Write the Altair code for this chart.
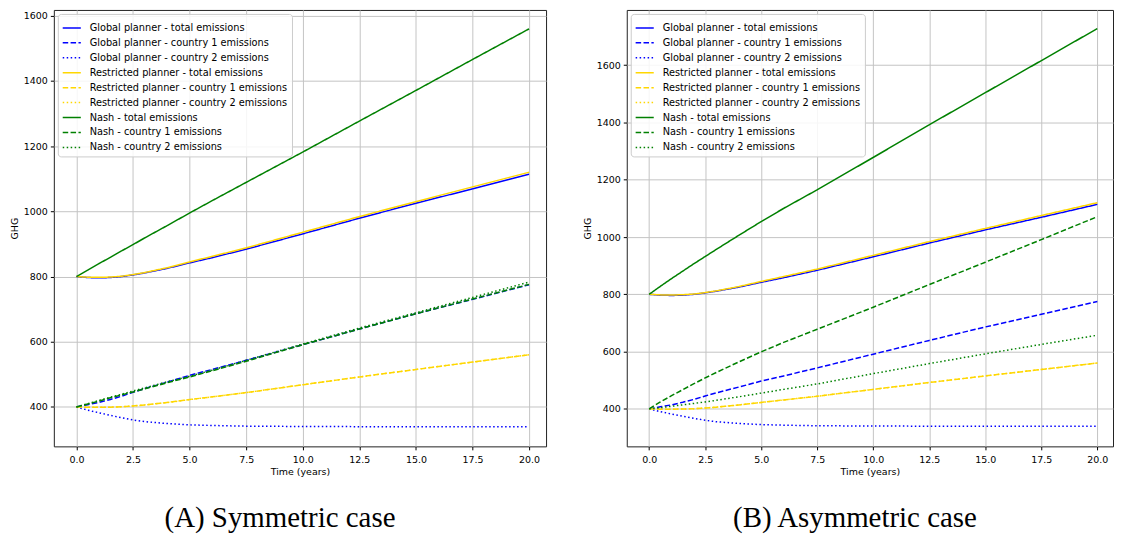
import altair as alt
import pandas as pd

# ---------------- data ----------------
t = [0, 0.5, 1, 1.5, 2, 2.5, 3, 4, 5, 6, 7.5, 10, 12.5, 15, 17.5, 20]

series_names = [
    "Global planner - total emissions",
    "Global planner - country 1 emissions",
    "Global planner - country 2 emissions",
    "Restricted planner - total emissions",
    "Restricted planner - country 1 emissions",
    "Restricted planner - country 2 emissions",
    "Nash - total emissions",
    "Nash - country 1 emissions",
    "Nash - country 2 emissions",
]

global_total = [800, 797, 796, 797, 800, 805, 811, 825, 842, 858, 884, 931, 979, 1025, 1069, 1114]
global_c1 = [400, 407, 414, 423, 433, 445, 456, 476, 497, 515, 543, 591, 639, 686, 730, 775]
global_c2 = [400, 390, 382, 374, 367, 360, 355, 349, 345, 343, 341, 340, 339.5, 339, 339, 339]

restricted_total = [800, 798, 797.5, 798.5, 801, 806, 812, 827, 845, 862, 888, 936, 984, 1030, 1075, 1120]
restricted_c1 = [400, 399, 398.8, 399.3, 400.5, 403, 406, 413.5, 422.5, 431, 444, 468, 492, 515, 537.5, 560]
restricted_c2 = [400, 399, 398.8, 399.3, 400.5, 403, 406, 413.5, 422.5, 431, 444, 468, 492, 515, 537.5, 560]

sym_nash_total = [800, 820, 840, 859, 879, 898, 918, 956, 995, 1033, 1089, 1182, 1277, 1371, 1466, 1560]
sym_nash_c1 = [400, 409, 418, 428, 437, 446, 455, 474, 492, 511, 540, 591, 639, 686, 731, 776]
sym_nash_c2 = [400, 410, 420, 430, 439, 449, 458, 477, 494, 513, 543, 593, 642, 689, 736, 783]

asym_nash_total = [800, 828, 855, 881, 907, 932, 957, 1006, 1054, 1100, 1165, 1278, 1392, 1504, 1616, 1728]
asym_nash_c1 = [400, 424, 446, 467, 488, 508, 527, 564, 599, 632, 678, 755, 834, 912, 991, 1071]
asym_nash_c2 = [400, 404, 409, 414, 419, 424, 430, 442, 455, 468, 487, 523, 558, 592, 625, 657]

x_ticks = [0, 2.5, 5, 7.5, 10, 12.5, 15, 17.5, 20]
y_ticks = [400, 600, 800, 1000, 1200, 1400, 1600]

line_colors = ["blue", "blue", "blue", "gold", "gold", "gold", "green", "green", "green"]
line_dashes = [[1, 0], [5.5, 2.4], [1.5, 2.5]] * 3


def make_df(values):
    rows = []
    for k, (name, vals) in enumerate(zip(series_names, values)):
        for tt, v in zip(t, vals):
            rows.append({"t": tt, "v": v, "series": name, "k": k})
    return pd.DataFrame(rows)


sym_df = make_df([global_total, global_c1, global_c2,
                  restricted_total, restricted_c1, restricted_c2,
                  sym_nash_total, sym_nash_c1, sym_nash_c2])
asym_df = make_df([global_total, global_c1, global_c2,
                   restricted_total, restricted_c1, restricted_c2,
                   asym_nash_total, asym_nash_c1, asym_nash_c2])


def legend():
    return alt.Legend(
        title=None, orient="top-left", offset=4,
        symbolType="stroke", symbolSize=330, symbolStrokeWidth=1.5,
        labelFont="DejaVu Sans", labelFontSize=9.8, labelColor="black",
        labelLimit=0, labelOffset=8, rowPadding=0, padding=4,
        fillColor="rgba(255,255,255,0.85)", strokeColor="#cccccc",
        cornerRadius=3,
    )


def panel(df, ydomain, xmax, caption, width, dx):
    return alt.Chart(df).mark_line(strokeWidth=1.5, clip=True).encode(
        x=alt.X("t:Q",
                scale=alt.Scale(domain=[-1, xmax], nice=False, zero=False),
                axis=alt.Axis(values=x_ticks, format=".1f", title="Time (years)")),
        y=alt.Y("v:Q",
                scale=alt.Scale(domain=ydomain, nice=False, zero=False),
                axis=alt.Axis(values=y_ticks, format="d", title="GHG")),
        color=alt.Color("series:N", sort=series_names,
                        scale=alt.Scale(domain=series_names, range=line_colors),
                        legend=legend()),
        strokeDash=alt.StrokeDash("series:N", sort=series_names,
                                  scale=alt.Scale(domain=series_names, range=line_dashes),
                                  legend=legend()),
        order=alt.Order("t:Q"),
    ).properties(
        width=width, height=438,
        title=alt.TitleParams(caption, orient="bottom", anchor="middle",
                              font="Liberation Serif", fontSize=29,
                              fontWeight="normal", color="black", offset=28, dx=dx),
    )


left = panel(sym_df, [279, 1618], 20.75, "(A) Symmetric case", 494, -20)
right = panel(asym_df, [269, 1793], 20.7, "(B) Asymmetric case", 488, -15)

chart = alt.hconcat(left, right, spacing=34).resolve_scale(
    color="independent", strokeDash="independent", x="independent", y="independent"
).resolve_legend(color="independent", strokeDash="independent").properties(
    padding=0
).configure_view(
    stroke="#222222", strokeWidth=1
).configure_axis(
    labelFont="DejaVu Sans", titleFont="DejaVu Sans",
    labelFontSize=9.5, titleFontSize=9.5, titleFontWeight="normal",
    labelColor="black", titleColor="black",
    tickColor="black", tickSize=3.5, domain=False,
    grid=True, gridColor="#c4c4c4", gridWidth=1,
).configure_axisY(
    labelPadding=3, titlePadding=4
).configure_axisX(
    labelPadding=5, titlePadding=2
)

chart.save("out.html", embed_options={"renderer": "svg", "actions": False})
